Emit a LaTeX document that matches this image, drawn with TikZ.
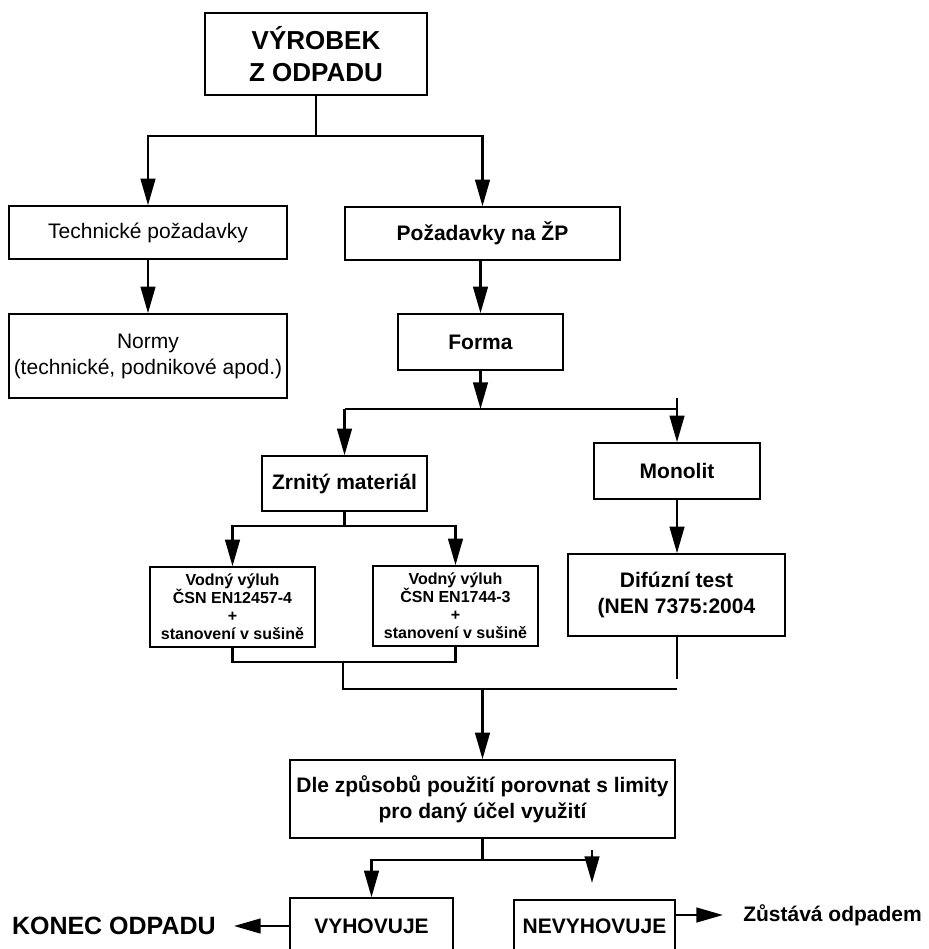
\documentclass[tikz,border=0pt]{standalone}
\usepackage{fontspec}
\setmainfont{Liberation Sans}
\usetikzlibrary{arrows.meta}
\newcommand{\ftitle}{\fontsize{19.5pt}{24pt}\selectfont\bfseries}
\newcommand{\freg}{\fontsize{15.75pt}{19.5pt}\selectfont}
\newcommand{\fbold}{\fontsize{15.75pt}{19.5pt}\selectfont\bfseries}
\newcommand{\fsmall}{\fontsize{12pt}{13.6pt}\selectfont\bfseries}
\newcommand{\fbig}{\fontsize{18.75pt}{22pt}\selectfont\bfseries}
\begin{document}
\begin{tikzpicture}[x=0.75pt,y=-0.75pt,
  box/.style={draw, line width=1.1pt, inner sep=0pt, align=center},
  conn/.style={line width=1.8pt},
  arr/.style={line width=1.8pt, -{Triangle[length=20pt,width=11pt]}}]
\clip (0,0) rectangle (928,949);
\fill[white] (0,0) rectangle (928,949);
% nodes
\node[box, font=\ftitle, minimum width=166.5pt, minimum height=61.5pt] (title) at (316,54) {VÝROBEK\\Z ODPADU};
\node[box, font=\freg, minimum width=208.5pt, minimum height=39.75pt] (tech) at (148,232.5) {Technické požadavky};
\node[box, font=\fbold, minimum width=206.25pt, minimum height=39.75pt] (zp) at (482.5,233.5) {Požadavky na ŽP};
\node[box, font=\freg, minimum width=208.5pt, minimum height=63pt] (normy) at (148,356) {Normy\\(technické, podnikové apod.)};
\node[box, font=\fbold, minimum width=123.75pt, minimum height=42pt] (forma) at (480.5,342) {Forma};
\node[box, font=\fbold, minimum width=123.75pt, minimum height=41.25pt] (zrn) at (344.5,483.5) {Zrnitý materiál};
\node[box, font=\fbold, minimum width=124.5pt, minimum height=42pt] (mono) at (677,471) {Monolit};
\node[box, font=\fsmall, minimum width=123.75pt, minimum height=60pt] (v1) at (232.5,607) {Vodný výluh\\ČSN EN12457-4\\+\\stanovení v sušině};
\node[box, font=\fsmall, minimum width=123.75pt, minimum height=60pt] (v2) at (455.5,606) {Vodný výluh\\ČSN EN1744-3\\+\\stanovení v sušině};
\node[box, font=\fbold, minimum width=162.75pt, minimum height=61.5pt] (dif) at (676.5,595) {Difúzní test\\(NEN 7375:2004};
\node[box, font=\fbold, minimum width=288.75pt, minimum height=58.5pt] (dle) at (482.5,799) {Dle způsobů použití porovnat s limity\\pro daný účel využití};
\node[box, font=\fbold, minimum width=122.25pt, minimum height=42pt] (vyh) at (371.5,926) {VYHOVUJE};
\node[box, font=\fbold, minimum width=120.75pt, minimum height=39pt] (nev) at (594.5,926) {NEVYHOVUJE};
\node[font=\fbig, inner sep=0pt, anchor=east] (konec) at (216,926) {KONEC ODPADU};
\node[font=\fbold, inner sep=0pt, anchor=west] (zust) at (743,915) {Zůstává odpadem};
% junctions
\coordinate (j1) at (316,136);
\coordinate (j2) at (480.5,409);
\coordinate (t2) at (677,398);
\coordinate (j3) at (344.5,526);
\coordinate (j4) at (343,662);
\coordinate (j5) at (482.5,689);
\coordinate (de) at (677,679);
\coordinate (j6) at (482.5,860);
\coordinate (t6) at (592,850);
\coordinate (e6) at (592,883);
% connectors
\draw[conn] (title.south) -- (j1);
\draw[arr] (j1) -| (tech.north);
\draw[arr] (j1) -| (zp.north);
\draw[arr] (tech) -- (normy);
\draw[arr] (forma.north |- zp.south) -- (forma.north);
\draw[arr] (forma.south) -- (j2);
\draw[conn] (zrn.north |- j2) -- (t2 |- j2);
\draw[arr] (zrn.north |- j2) -- (zrn.north);
\draw[arr] (t2) -- (t2 |- mono.north);
\draw[conn] (zrn.south) -- (j3);
\draw[arr] (j3) -| (v1.north);
\draw[arr] (j3) -| (v2.north);
\draw[arr] (mono.south) -- (mono.south |- dif.north);
\draw[conn] (v1.south) |- (j4) -| (v2.south);
\draw[conn] (j4) |- (de |- j5);
\draw[conn] (de |- dif.south) -- (de);
\draw[arr] (j5) -- (dle.north);
\draw[conn] (dle.south) -- (j6);
\draw[arr] (j6) -| (vyh.north);
\draw[conn] (j6) -- (t6 |- j6);
\draw[arr] (t6) -- (e6);
\draw[arr] (vyh.west) -- ([xshift=13.5pt]konec.east);
\draw[arr] (nev.east |- zust.west) -- ([xshift=-15pt]zust.west);
\end{tikzpicture}
\end{document}
